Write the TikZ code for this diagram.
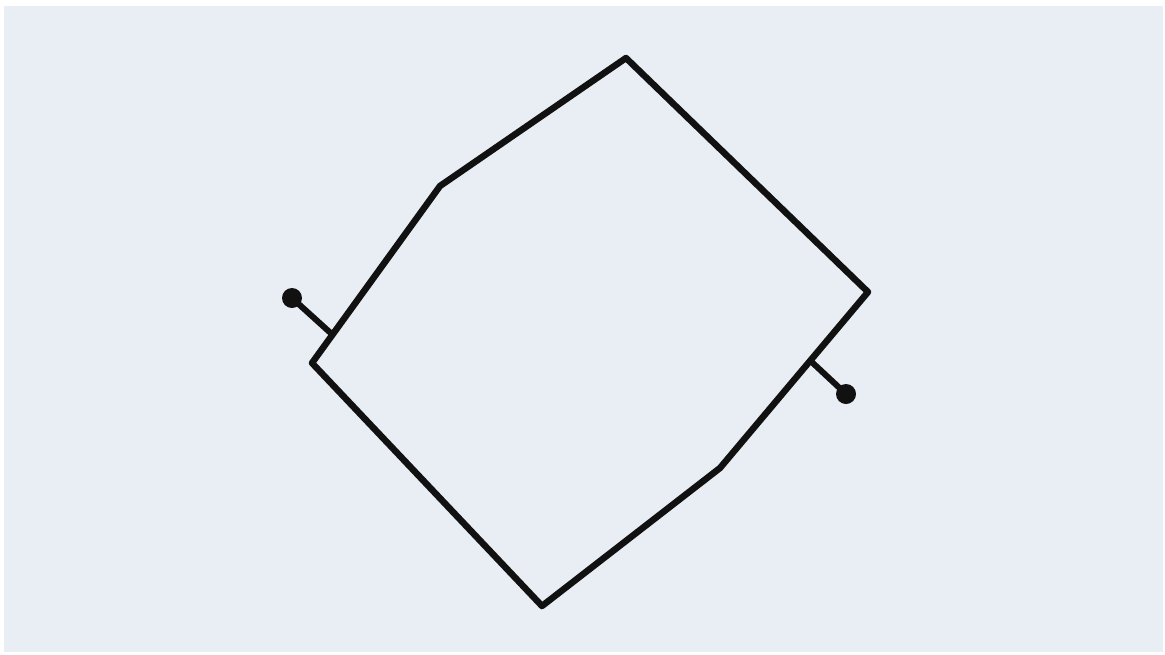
\documentclass[tikz,border=0pt]{standalone}
\usetikzlibrary{calc}
\definecolor{paper}{HTML}{E8EEF3}
\definecolor{ink}{HTML}{111111}
\tikzset{
  outline/.style={draw=ink, line width=6.5pt, line join=round, line cap=round},
  pinline/.style={draw=ink, line width=6pt, line cap=round},
  pinhead/.style={circle, fill=ink, inner sep=0pt, minimum size=20pt}
}
\begin{document}
\begin{tikzpicture}[x=1pt,y=-1pt]
\useasboundingbox (0,0) rectangle (1165,654);
\fill[white] (0,0) rectangle (1165,654);
\fill[paper] (4,6) rectangle (1163,652);
% outline
\coordinate (T) at (626,58);
\coordinate (R) at (868,292);
\coordinate (BR) at (720,468);
\coordinate (B) at (542,606);
\coordinate (L) at (312,363);
\coordinate (TL) at (440,186);
\draw[outline] (T) -- (R) -- (BR) -- (B) -- (L) -- (TL) -- cycle;
% pins
\coordinate (J1) at ($(L)!0.16!(TL)$);
\coordinate (J2) at ($(R)!0.39!(BR)$);
\node[pinhead] (P1) at (292,298) {};
\node[pinhead] (P2) at (846,394) {};
\draw[pinline] (J1) -- (P1.center);
\draw[pinline] (J2) -- (P2.center);
\end{tikzpicture}
\end{document}
